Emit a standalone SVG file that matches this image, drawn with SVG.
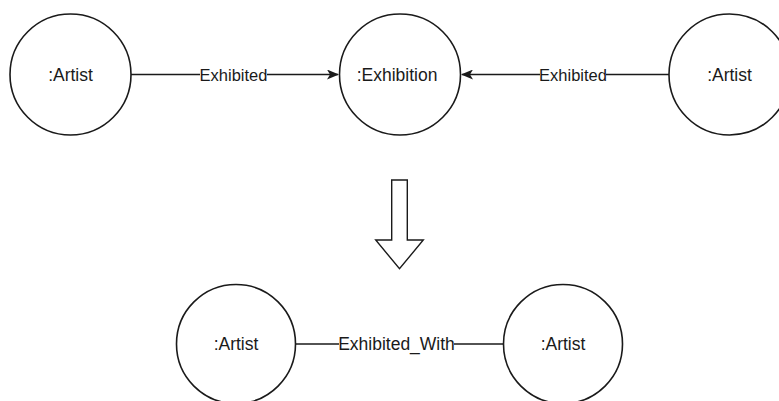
<svg xmlns="http://www.w3.org/2000/svg" width="779" height="401" viewBox="0 0 779 401">
<style>
.node{fill:#fff;stroke:#1a1a1a;stroke-width:1.6}
.edge{fill:none;stroke:#1a1a1a;stroke-width:1.4}
.nl{font-family:"Liberation Sans",Arial,sans-serif;font-size:17.5px;fill:#1a1a1a;text-anchor:middle;dominant-baseline:central}
.el{font-family:"Liberation Sans",Arial,sans-serif;font-size:16.5px;fill:#1a1a1a;text-anchor:middle;dominant-baseline:central}
</style>
<defs>
<marker id="arr" viewBox="0 0 12 10" refX="11" refY="5" markerWidth="12" markerHeight="10" markerUnits="userSpaceOnUse" orient="auto">
<path d="M0,0 L12,5 L0,10 L3,5 Z" fill="#1a1a1a"/>
</marker>
</defs>
<rect width="779" height="401" fill="#fff"/>
<g id="connectors">
<line class="edge" x1="131" y1="74.5" x2="200" y2="74.5"/>
<line class="edge" x1="267" y1="74.5" x2="338" y2="74.5" marker-end="url(#arr)"/>
<text class="el" x="233.5" y="74.5">Exhibited</text>
<line class="edge" x1="669" y1="74.5" x2="606" y2="74.5"/>
<line class="edge" x1="540" y1="74.5" x2="462" y2="74.5" marker-end="url(#arr)"/>
<text class="el" x="573" y="74.5">Exhibited</text>
<line class="edge" x1="296" y1="344" x2="339" y2="344"/>
<line class="edge" x1="454" y1="344" x2="503" y2="344"/>
<text class="el" style="font-size:17.5px" x="396.5" y="344">Exhibited_With</text>
</g>
<g id="transform-arrow">
<path d="M391.7,180 L407.3,180 L407.3,240 L423.3,240 L399.5,268.7 L375.7,240 L391.7,240 Z" fill="#fff" stroke="#1a1a1a" stroke-width="1.4" stroke-linejoin="miter"/>
</g>
<g id="artist1">
<circle class="node" cx="70.5" cy="74.5" r="60.5"/>
<text class="nl" x="70.5" y="74.5">:Artist</text>
</g>
<g id="exhibition">
<circle class="node" cx="400" cy="74.5" r="60.5"/>
<text class="nl" x="397" y="74.5">:Exhibition</text>
</g>
<g id="artist2">
<circle class="node" cx="729.5" cy="74.5" r="60.5"/>
<text class="nl" x="729.5" y="74.5">:Artist</text>
</g>
<g id="artist3">
<circle class="node" cx="236" cy="344" r="59.5"/>
<text class="nl" x="236" y="344">:Artist</text>
</g>
<g id="artist4">
<circle class="node" cx="563" cy="344" r="59.5"/>
<text class="nl" x="563" y="344">:Artist</text>
</g>
</svg>
